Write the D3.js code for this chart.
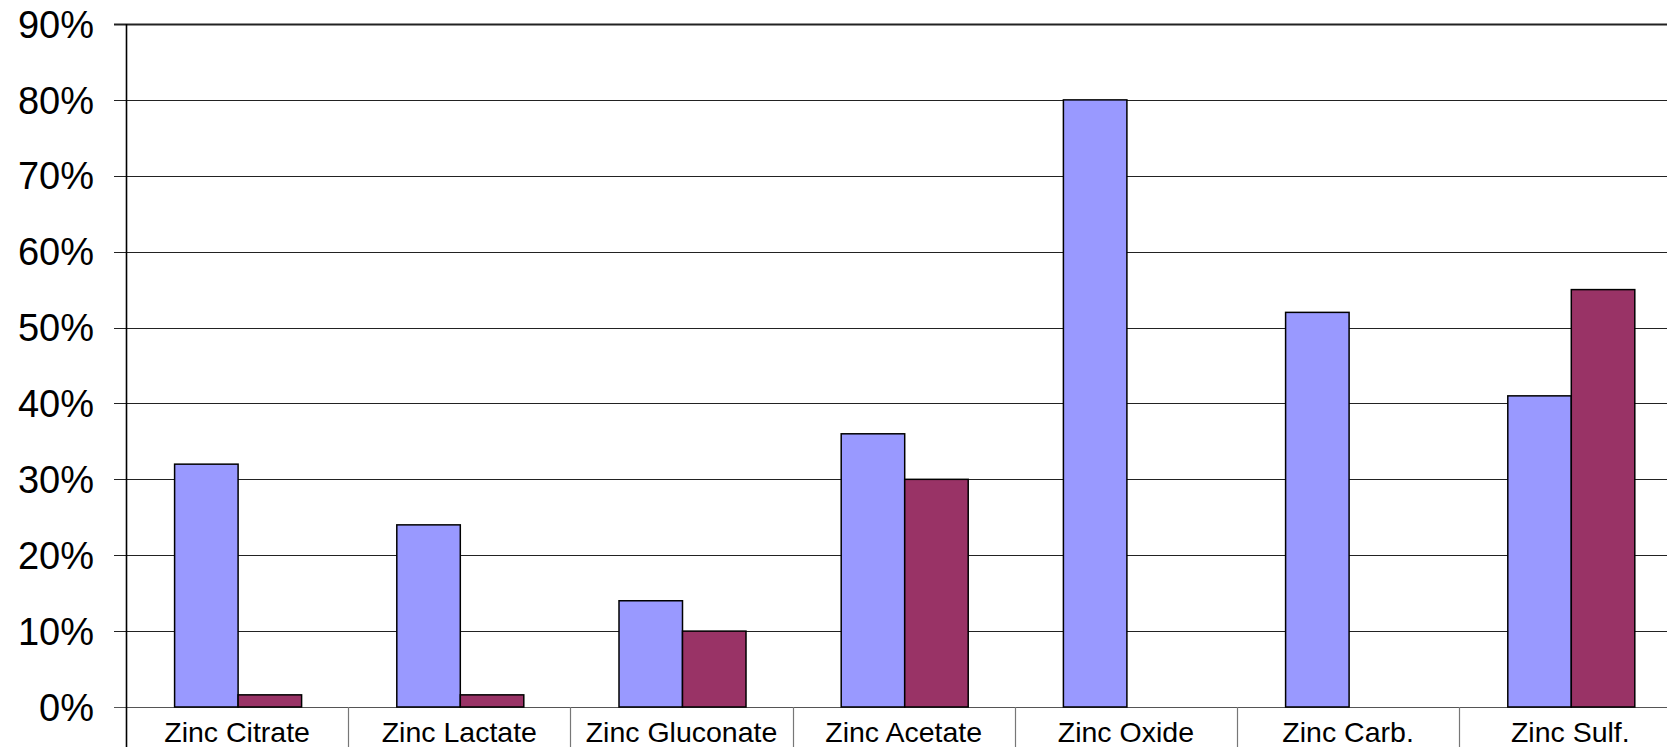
<!DOCTYPE html>
<html>
<head>
<meta charset="utf-8">
<script src="https://cdn.jsdelivr.net/npm/d3@7"></script>
<style>
  html, body { margin: 0; padding: 0; background: #fff; overflow: hidden; }
  svg { display: block; font-family: "Liberation Sans", Arial, sans-serif; }
</style>
</head>
<body>
<div id="chart"></div>
<script>
// datos del gráfico
const categories = ["Zinc Citrate", "Zinc Lactate", "Zinc Gluconate", "Zinc Acetate", "Zinc Oxide", "Zinc Carb.", "Zinc Sulf."];
const seriesA = [32, 24, 14, 36, 80, 52, 41];
const seriesB = [1.6, 1.6, 10, 30, 0, 0, 55];
const yTicks = [0, 10, 20, 30, 40, 50, 60, 70, 80, 90];

const W = 1667, H = 747;
const margin = { top: 24, left: 126 };
const plotW = 222.2 * categories.length;   // se sale por la derecha, como en el original
const plotH = 707 - margin.top;

const svg = d3.select("#chart").append("svg")
    .attr("width", W)
    .attr("height", H);

const g = svg.append("g").attr("transform", `translate(${margin.left},${margin.top})`);

const x = d3.scaleBand().domain(categories).range([0, plotW]).paddingInner(0).paddingOuter(0);
const xSub = d3.scaleBand().domain(["a", "b"]).range([0, 127]);
const y = d3.scaleLinear().domain([0, 90]).range([plotH, 0]);

// líneas de cuadrícula
g.selectAll(".grid")
    .data(yTicks)
    .enter().append("line")
    .attr("x1", -12)
    .attr("x2", plotW)
    .attr("y1", d => Math.round(y(d)) + 0.5)
    .attr("y2", d => Math.round(y(d)) + 0.5)
    .attr("stroke", d => d === 0 ? "#555" : "#222")
    .attr("stroke-width", d => d === 90 ? 2 : 1.2);

// etiquetas eje Y
g.selectAll(".ylab")
    .data(yTicks)
    .enter().append("text")
    .attr("x", -32)
    .attr("y", d => y(d))
    .attr("dy", "0.36em")
    .attr("text-anchor", "end")
    .attr("font-size", 38)
    .attr("fill", "#000")
    .text(d => d + "%");

// barras
const bw = x.bandwidth();
const groups = g.selectAll(".cat")
    .data(categories)
    .enter().append("g")
    .attr("transform", d => `translate(${x(d) + (bw - 127) / 2 + 1},0)`);

groups.append("rect")
    .attr("x", xSub("a"))
    .attr("width", xSub.bandwidth())
    .attr("y", (d, i) => y(seriesA[i]))
    .attr("height", (d, i) => y(0) - y(seriesA[i]))
    .attr("fill", "#9999FF")
    .attr("stroke", "#000")
    .attr("stroke-width", 1.5);

groups.filter((d, i) => seriesB[i] > 0).append("rect")
    .attr("x", xSub("b"))
    .attr("width", xSub.bandwidth())
    .attr("y", d => y(seriesB[categories.indexOf(d)]))
    .attr("height", d => y(0) - y(seriesB[categories.indexOf(d)]))
    .attr("fill", "#993366")
    .attr("stroke", "#000")
    .attr("stroke-width", 1.5);

// separadores de categorías bajo el eje
const bounds = categories.map(c => x(c)).concat([plotW]);
g.selectAll(".sep")
    .data(bounds.slice(1))
    .enter().append("line")
    .attr("x1", d => Math.round(d) + 0.5)
    .attr("x2", d => Math.round(d) + 0.5)
    .attr("y1", plotH)
    .attr("y2", H)
    .attr("stroke", "#777")
    .attr("stroke-width", 1.2);

// etiquetas eje X
g.selectAll(".xlab")
    .data(categories)
    .enter().append("text")
    .attr("x", d => x(d) + bw / 2)
    .attr("y", plotH + 35)
    .attr("text-anchor", "middle")
    .attr("font-size", 28.5)
    .attr("fill", "#000")
    .text(d => d);

// eje Y
g.append("line")
    .attr("x1", 0.5).attr("x2", 0.5)
    .attr("y1", 0).attr("y2", H)
    .attr("stroke", "#000")
    .attr("stroke-width", 1.6);
</script>
</body>
</html>
